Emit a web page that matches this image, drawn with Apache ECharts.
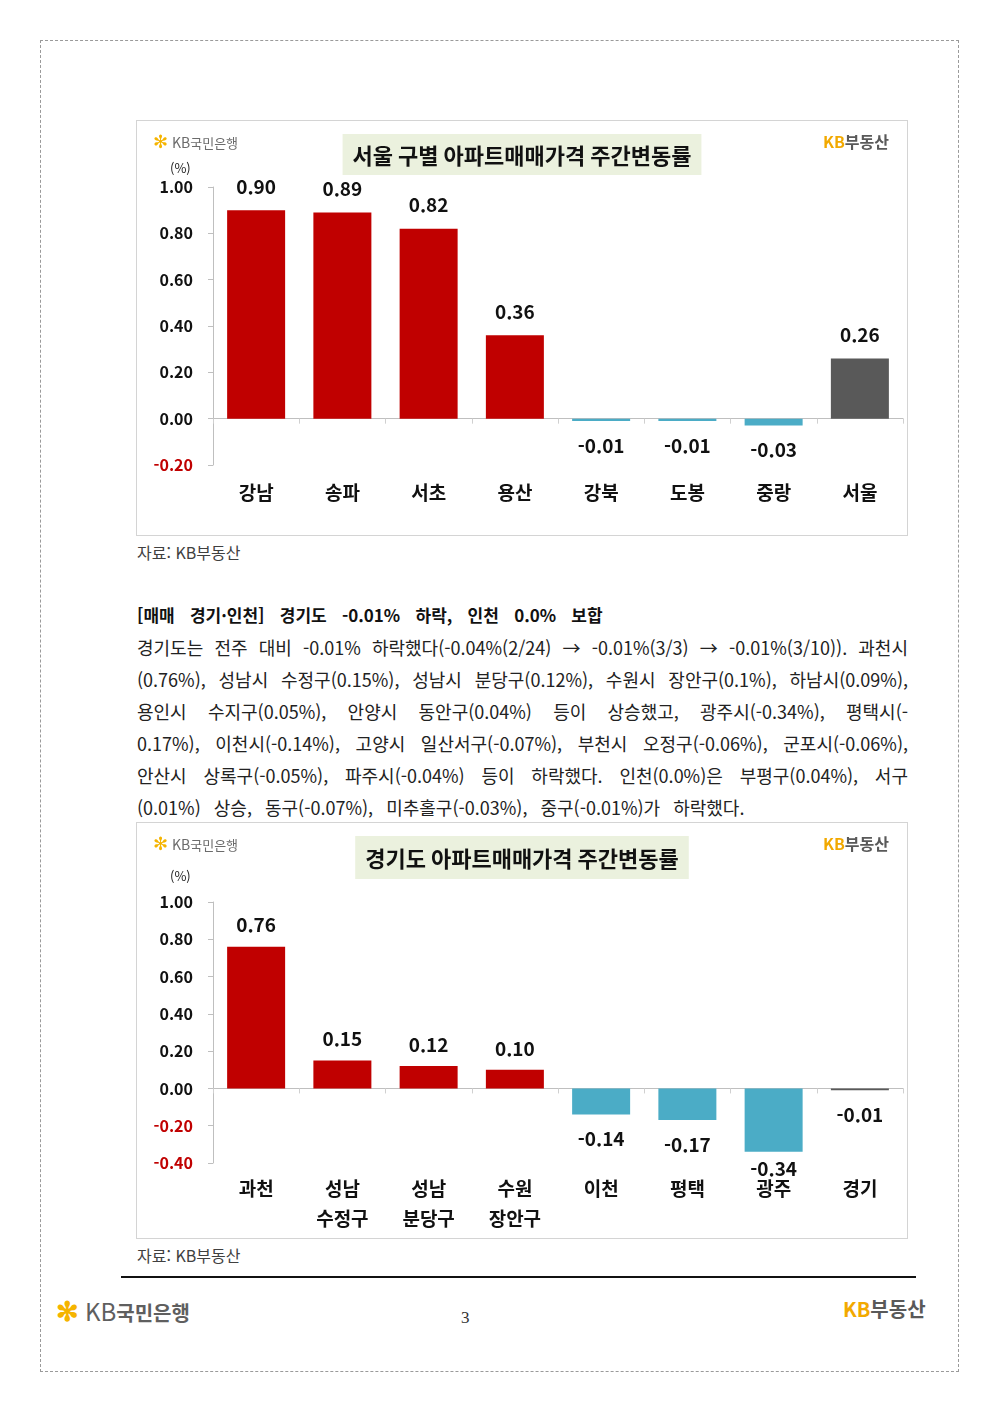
<!DOCTYPE html>
<html lang="ko">
<head>
<meta charset="utf-8">
<script src="https://cdn.jsdelivr.net/npm/echarts@6/dist/echarts.min.js"></script>
<style>
  html, body { margin:0; padding:0; background:#fff; }
  body { width:1000px; height:1414px; position:relative; font-family:"Noto Sans CJK KR","Noto Sans",sans-serif; color:#222; }
  .abs { position:absolute; }
  .pageframe { left:40px; top:40px; width:919px; height:1332px; border:1px dashed #9a9a9a; box-sizing:border-box; }
  .box { border:1px solid #d4d4d4; box-sizing:border-box; }
  .src { font-size:16px; color:#404040; line-height:20px; }
  .heading { left:137px; top:603px; font-size:17px; font-weight:bold; color:#111; line-height:24px; white-space:nowrap; word-spacing:10.5px; }
  .pline { left:137px; width:771px; font-size:18px; line-height:24px; color:#222; white-space:nowrap; text-align:justify; text-align-last:justify; }
  .pline.last { text-align-last:left; word-spacing:8px; }
  .kbstar { color:#F5B400; font-weight:bold; }
  .kbgray { color:#5f5f5f; }
  .kby { color:#F2A900; font-weight:bold; }
  .kbd { color:#595959; font-weight:bold; }
</style>
</head>
<body>
<div class="abs pageframe"></div>

<!-- chart 1 -->
<div class="abs box" style="left:136px;top:120px;width:772px;height:416px;"></div>
<div id="c1" class="abs" style="left:136px;top:120px;width:772px;height:416px;"></div>
<div class="abs src" style="left:137px;top:542px;">자료: KB부동산</div>

<div class="abs heading">[매매 경기·인천] 경기도 -0.01% 하락, 인천 0.0% 보합</div>
<div class="abs pline" style="top:635px;">경기도는 전주 대비 -0.01% 하락했다(-0.04%(2/24) → -0.01%(3/3) → -0.01%(3/10)). 과천시</div>
<div class="abs pline" style="top:667px;">(0.76%), 성남시 수정구(0.15%), 성남시 분당구(0.12%), 수원시 장안구(0.1%), 하남시(0.09%),</div>
<div class="abs pline" style="top:699px;">용인시 수지구(0.05%), 안양시 동안구(0.04%) 등이 상승했고, 광주시(-0.34%), 평택시(-</div>
<div class="abs pline" style="top:731px;">0.17%), 이천시(-0.14%), 고양시 일산서구(-0.07%), 부천시 오정구(-0.06%), 군포시(-0.06%),</div>
<div class="abs pline" style="top:763px;">안산시 상록구(-0.05%), 파주시(-0.04%) 등이 하락했다. 인천(0.0%)은 부평구(0.04%), 서구</div>
<div class="abs pline last" style="top:795px;">(0.01%) 상승, 동구(-0.07%), 미추홀구(-0.03%), 중구(-0.01%)가 하락했다.</div>

<!-- chart 2 -->
<div class="abs box" style="left:136px;top:822px;width:772px;height:417px;"></div>
<div id="c2" class="abs" style="left:136px;top:822px;width:772px;height:417px;"></div>
<div class="abs src" style="left:137px;top:1245px;">자료: KB부동산</div>

<!-- footer -->
<div class="abs" style="left:121px;top:1276px;width:795px;height:2px;background:#111;"></div>
<div class="abs" style="left:56px;top:1294px;line-height:32px;white-space:nowrap;"><span class="kbstar" style="font-size:27px;">✻</span><span class="kbgray" style="font-size:24px;margin-left:6px;">KB</span><span class="kbgray" style="font-size:20px;font-weight:bold;">국민은행</span></div>
<div class="abs" style="left:461px;top:1308px;font-family:'Liberation Serif','DejaVu Serif',serif;font-size:17px;color:#333;">3</div>
<div class="abs" style="left:843px;top:1296px;font-size:20px;line-height:26px;white-space:nowrap;"><span class="kby">KB</span><span class="kbd">부동산</span></div>

<script>
// ---------- data ----------
const seoulCategories = ['강남','송파','서초','용산','강북','도봉','중랑','서울'];
const seoulValues     = [0.90, 0.89, 0.82, 0.36, -0.01, -0.01, -0.03, 0.26];
const seoulYTicks     = [-0.20, 0.00, 0.20, 0.40, 0.60, 0.80, 1.00];
const seoulTitle      = '서울 구별 아파트매매가격 주간변동률';
const seoulTotal      = '서울';

const gyeonggiCategories = ['과천','성남\n수정구','성남\n분당구','수원\n장안구','이천','평택','광주','경기'];
const gyeonggiValues     = [0.76, 0.15, 0.12, 0.10, -0.14, -0.17, -0.34, -0.01];
const gyeonggiYTicks     = [-0.40, -0.20, 0.00, 0.20, 0.40, 0.60, 0.80, 1.00];
const gyeonggiTitle      = '경기도 아파트매매가격 주간변동률';
const gyeonggiTotal      = '경기';

// ---------- styling ----------
const RED = '#C00000', BLUE = '#4BACC6', GRAY = '#595959';
const FONT = '"Noto Sans CJK KR","Noto Sans",sans-serif';

function makeOption(cfg) {
  const ticks = cfg.ticks;
  const interval = Math.round((ticks[1] - ticks[0]) * 100) / 100;
  const data = cfg.values.map((v, i) => {
    const name = cfg.categories[i];
    const color = name === cfg.total ? GRAY : (v >= 0 ? RED : BLUE);
    const dist = v >= 0 ? cfg.posDist : (cfg.negDistOverride[name] !== undefined ? cfg.negDistOverride[name] : cfg.negDist);
    return {
      value: v,
      itemStyle: { color: color },
      label: { position: v >= 0 ? 'top' : 'bottom', distance: dist }
    };
  });
  return {
    animation: false,
    textStyle: { fontFamily: FONT },
    title: {
      text: cfg.title,
      left: 'center',
      top: cfg.titleTop,
      backgroundColor: '#EBF1DE',
      padding: [cfg.titlePadV, 10, cfg.titlePadV - 2, 10],
      textStyle: { fontFamily: FONT, fontSize: 22, fontWeight: 'bold', color: '#111', lineHeight: 27 }
    },
    graphic: [
      { type: 'text', left: 17, top: 14, style: { text: '✻', fill: '#F5B400', font: 'bold 18px "DejaVu Sans"' } },
      { type: 'text', left: 36, top: 16, style: { rich: { a: { fill: '#6b6b6b', fontSize: 14, fontFamily: FONT }, b: { fill: '#6b6b6b', fontSize: 13, fontFamily: FONT } }, text: '{a|KB}{b|국민은행}' } },
      { type: 'text', left: 687, top: 14, style: { rich: { a: { fill: '#F2A900', fontWeight: 'bold', fontSize: 16, fontFamily: FONT }, b: { fill: '#595959', fontWeight: 'bold', fontSize: 16, fontFamily: FONT } }, text: '{a|KB}{b|부동산}' } },
      { type: 'text', left: 34, top: cfg.pctTop, style: { text: '(%)', fill: '#222', font: '13px ' + FONT } }
    ],
    grid: { left: 77, right: 5, top: cfg.gridTop, bottom: cfg.gridBottom, containLabel: false },
    xAxis: [
      {
        type: 'category', data: cfg.categories,
        axisLine: { onZero: true, lineStyle: { color: '#BFBFBF', width: 1 } },
        axisTick: { show: true, length: 5, lineStyle: { color: '#D0D0D0' } },
        axisLabel: { show: false }
      },
      {
        type: 'category', data: cfg.categories, position: 'bottom',
        axisLine: { show: false, onZero: false },
        axisTick: { show: false },
        axisLabel: { margin: cfg.catMargin, fontSize: 19, fontWeight: 'bold', color: '#111', fontFamily: FONT, lineHeight: cfg.catLineHeight }
      }
    ],
    yAxis: {
      type: 'value', min: ticks[0], max: ticks[ticks.length - 1], interval: interval,
      splitLine: { show: false },
      axisLine: { show: true, lineStyle: { color: '#BFBFBF' } },
      axisTick: { show: true, length: 5, lineStyle: { color: '#BFBFBF' } },
      axisLabel: {
        margin: 20, fontSize: 16, fontWeight: 'bold', fontFamily: FONT,
        color: v => (Number(v) < 0 ? RED : '#111'),
        formatter: v => Number(v).toFixed(2)
      }
    },
    series: [{
      type: 'bar', xAxisIndex: 0, barWidth: 58, data: data,
      label: {
        show: true, fontSize: 19, fontWeight: 'bold', color: '#111', fontFamily: FONT,
        formatter: p => Number(p.value).toFixed(2)
      }
    }]
  };
}

const c1 = echarts.init(document.getElementById('c1'), null, { renderer: 'canvas' });
c1.setOption(makeOption({
  categories: seoulCategories, values: seoulValues, ticks: seoulYTicks,
  title: seoulTitle, total: seoulTotal,
  titleTop: 14, titlePadV: 8, pctTop: 42,
  gridTop: 67, gridBottom: 71, catMargin: 17, catLineHeight: 22,
  posDist: 14, negDist: 15, negDistOverride: {}
}));

const c2 = echarts.init(document.getElementById('c2'), null, { renderer: 'canvas' });
c2.setOption(makeOption({
  categories: gyeonggiCategories, values: gyeonggiValues, ticks: gyeonggiYTicks,
  title: gyeonggiTitle, total: gyeonggiTotal,
  titleTop: 14, titlePadV: 9, pctTop: 48,
  gridTop: 80, gridBottom: 76, catMargin: 11, catLineHeight: 30,
  posDist: 12, negDist: 15, negDistOverride: { '광주': 7 }
}));
</script>
</body>
</html>
